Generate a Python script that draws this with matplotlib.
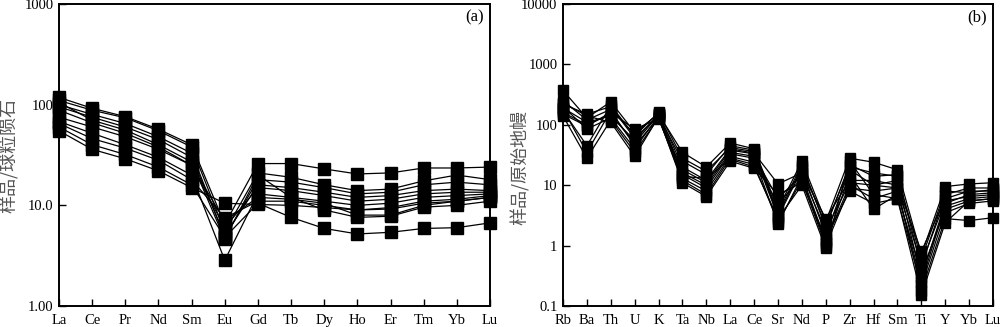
import matplotlib
matplotlib.use("Agg")
import matplotlib.pyplot as plt
from matplotlib.ticker import FixedLocator, FixedFormatter, NullLocator

plt.rcParams['font.family'] = ['Liberation Serif', 'Noto Sans CJK SC']

# (a) chondrite normalised REE
ree = ['La', 'Ce', 'Pr', 'Nd', 'Sm', 'Eu', 'Gd', 'Tb', 'Dy', 'Ho', 'Er', 'Tm', 'Yb', 'Lu']
ree_samples = [
    [118, 92, 76, 57, 40, 6.5, 26, 26, 23, 20.5, 21, 23.5, 23.5, 24],
    [60, 40, 32, 24, 16, 4.8, 10.5, 7.6, 5.9, 5.2, 5.4, 5.9, 6.0, 6.7],
    [55, 36, 29, 22, 15, 10.5, 10.2, 10.0, 9.5, 9.0, 9.2, 10.5, 11, 12],
    [110, 88, 74, 55, 38, 5.5, 21, 19, 16, 14, 14.5, 17.5, 20, 18],
    [100, 80, 65, 48, 33, 4.8, 18, 17, 15, 13, 13.5, 16, 17, 16],
    [95, 75, 60, 45, 30, 5.0, 16, 15, 13.5, 12, 12.5, 14, 14.5, 14],
    [75, 60, 48, 36, 25, 6.0, 15, 14, 12.5, 11, 11.5, 13, 13.5, 13.5],
    [68, 52, 40, 30, 20, 2.85, 13, 12, 11, 10, 10.5, 12, 12.5, 13],
    [65, 46, 37, 28, 18, 7.5, 11, 11, 10, 9, 9.5, 11, 11.5, 12.5],
    [88, 66, 52, 38, 25, 7.0, 12, 11.5, 10.5, 8, 8, 10, 11, 12],
    [105, 70, 56, 40, 27, 4.6, 20, 12, 9.0, 7.6, 7.8, 9.6, 10, 11],
]
ree_yticks = [1, 10, 100, 1000]
ree_ylabels = ['1.00', '10.0', '100', '1000']

# (b) primitive mantle normalised spidergram
spd = ['Rb', 'Ba', 'Th', 'U', 'K', 'Ta', 'Nb', 'La', 'Ce', 'Sr', 'Nd', 'P', 'Zr', 'Hf', 'Sm', 'Ti', 'Y', 'Yb', 'Lu']
spd_samples = [
    [370, 130, 240, 75, 150, 35, 20, 50, 40, 4.0, 25, 2.5, 28, 24, 18, 0.7, 9.5, 10.5, 11],
    [220, 150, 200, 60, 140, 25, 15, 45, 38, 3.5, 22, 2.0, 22, 14, 15, 0.45, 7, 9, 9],
    [180, 35, 170, 45, 130, 18, 11, 38, 33, 3.0, 18, 1.5, 18, 10, 12, 0.3, 5, 7, 7.5],
    [250, 120, 180, 70, 155, 20, 12, 40, 34, 10.5, 16, 2.8, 12, 12, 10, 0.8, 6, 8, 8],
    [160, 100, 150, 50, 145, 15, 9, 33, 28, 2.3, 14, 1.2, 10, 6, 8, 0.25, 4.5, 6, 6.5],
    [140, 28, 120, 35, 130, 12, 7, 28, 22, 2.5, 12, 1.0, 9, 8, 9, 0.18, 2.8, 2.6, 2.9],
    [200, 85, 130, 40, 140, 13, 8, 30, 24, 5, 13, 1.1, 15, 4, 7, 0.35, 4, 5.5, 6],
    [190, 110, 140, 55, 150, 16, 10, 35, 30, 6, 15, 1.8, 11, 10, 9, 0.5, 5.5, 6.5, 7],
    [230, 140, 110, 30, 135, 11, 6.5, 25, 19, 7, 11, 1.3, 8, 5, 6, 0.22, 3.5, 5, 5.5],
    [170, 45, 210, 65, 160, 28, 17, 42, 36, 3.2, 20, 2.2, 20, 16, 14, 0.6, 8, 7.5, 8.5],
    [150, 95, 160, 85, 125, 14, 13, 27, 20, 2.8, 10, 0.9, 25, 7, 6, 0.15, 2.4, 5.5, 6],
]
spd_yticks = [0.1, 1, 10, 100, 1000, 10000]
spd_ylabels = ['0.1', '1', '10', '100', '1000', '10000']


def draw(ax, names, samples, yticks, ylabels, ylim, ylabel, tag, msize, lab_xy):
    x = list(range(len(names)))
    for s in samples:
        ax.plot(x, s, color='black', lw=0.9, marker='s', ms=msize,
                mfc='black', mec='black', clip_on=False, zorder=3)
    ax.set_yscale('log')
    ax.set_ylim(*ylim)
    ax.set_xlim(0, len(names) - 1)
    ax.yaxis.set_major_locator(FixedLocator(yticks))
    ax.yaxis.set_major_formatter(FixedFormatter(ylabels))
    ax.yaxis.set_minor_locator(NullLocator())
    ax.set_xticks(x)
    ax.set_xticklabels(names)
    ax.tick_params(direction='in', length=5, width=1, labelsize=10.5, pad=4)
    ax.tick_params(axis='x', pad=6)
    for sp in ax.spines.values():
        sp.set_linewidth(1.4)
    ax.set_ylabel(ylabel, fontsize=13, color='#555555', family='Noto Sans CJK SC')
    ax.yaxis.set_label_coords(*lab_xy)
    ax.text(0.985, 0.955, tag, transform=ax.transAxes, ha='right', va='center', fontsize=12)


fig = plt.figure(figsize=(10, 3.27), dpi=100)
ax1 = fig.add_axes([0.059, 0.064, 0.431, 0.924])
ax2 = fig.add_axes([0.563, 0.064, 0.430, 0.924])

draw(ax1, ree, ree_samples, ree_yticks, ree_ylabels, (1, 1000), '样品/球粒陨石', '(a)', 8, (-0.094, 0.5))
draw(ax2, spd, spd_samples, spd_yticks, spd_ylabels, (0.1, 10000), '样品/原始地幔', '(b)', 6.5, (-0.077, 0.46))

fig.savefig('out.png', dpi=100)
